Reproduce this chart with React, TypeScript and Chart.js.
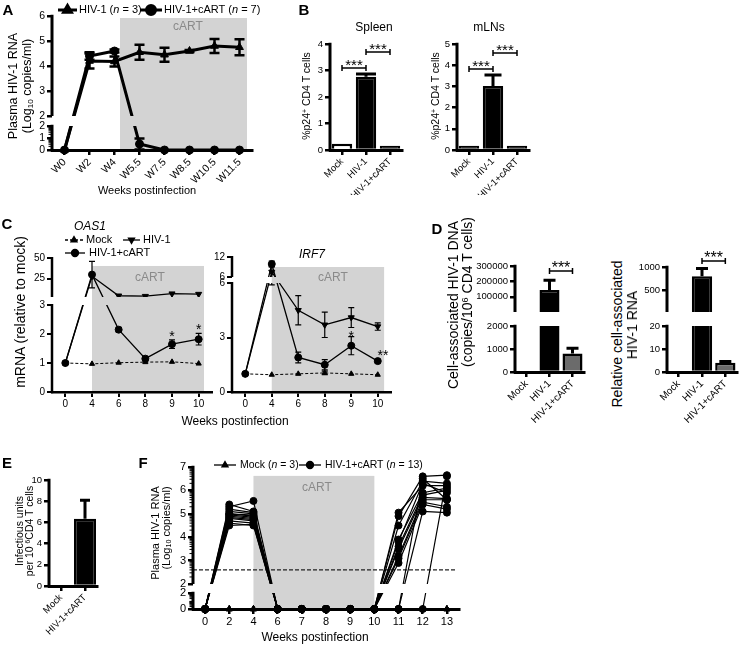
import React, { useEffect, useRef } from 'react';
import { Chart, registerables } from 'chart.js';
import { drawPoint } from 'chart.js/helpers';

Chart.register(...registerables);

const FONT = '"Liberation Sans", Arial, Helvetica, sans-serif';
const SHADE = '#d3d3d3';
const CART_TEXT = '#8a8a8a';

/* ---------------- data ---------------- */
// Panel A
const weeksA = ['W0', 'W2', 'W4', 'W5.5', 'W7.5', 'W8.5', 'W10.5', 'W11.5'];
const hivA = [0, 4.2, 4.18, 4.55, 4.45, 4.6, 4.8, 4.75];
const hivAErr = [0, 0.3, 0.2, 0.3, 0.28, 0.04, 0.28, 0.32];
const cartA = [0, 4.4, 4.6, 0.5, 0, 0, 0, 0];
const cartAErr = [0, 0.15, 0.06, 0.45, 0, 0, 0, 0];
const ticksALow = [0, 1, 2];
const ticksAHigh = [2, 3, 4, 5, 6];
const cartSpanA = [2.22, 7.3, 5.92];

// Panel B
const groupsB = ['Mock', 'HIV-1', 'HIV-1+cART'];
const spleenB = [0.24, 2.76, 0.16];
const spleenErrB = [0, 0.11, 0];
const mlnB = [0.2, 3.02, 0.2];
const mlnErrB = [0, 0.52, 0];
const ticksSpleen = [0, 1, 2, 3, 4];
const ticksMln = [0, 1, 2, 3, 4, 5];
const sigSpleen = [[0, 1, 3.09], [1, 2, 3.7]];
const sigMln = [[0, 1, 3.82], [1, 2, 4.57]];

// Panel C
const weeksC = ['0', '4', '6', '8', '9', '10'];
const oasMock = [1, 0.97, 1.01, 1.03, 1.04, 0.98];
const oasHiv = [1, 28, 4.5, 4.0, 7.0, 6.5];
const oasCart = [1, 30, 2.15, 1.15, 1.65, 1.82];
const oasCartErr = [0, 16, 0.08, 0.08, 0.15, 0.2];
const ticksOasLow = [0, 1, 2, 3];
const ticksOasHigh = [25, 50];
const cartSpanOas = [1, 5.2, 40.4];
const starsOas: [number, number, string][] = [[4, 2.03, '*'], [5, 2.28, '*']];
const irfMock = [1, 0.95, 1.0, 1.05, 1.0, 0.95];
const irfMockErr = [0, 0, 0, 0.1, 0, 0];
const irfHiv = [1, 7.5, 4.5, 3.7, 4.1, 3.6];
const irfHivErr = [0, 1.6, 0.8, 0.7, 0.55, 0.2];
const irfCart = [1, 9.9, 1.9, 1.5, 2.55, 1.7];
const irfCartErr = [0, 0.9, 0.3, 0.28, 0.5, 0.1];
const ticksIrfLow = [0, 3, 6];
const ticksIrfHigh = [6, 12];
const cartSpanIrf = [1, 5.24, 9];
const starsIrf: [number, number, string][] = [[4, 3.25, '*'], [5.2, 2.2, '**']];

// Panel D
const groupsD = ['Mock', 'HIV-1', 'HIV-1+cART'];
const dnaD = [0, 145000, 800];
const dnaErrD = [0, 62000, 230];
const rnaD = [0, 800, 4];
const rnaErrD = [0, 170, 0.6];
const ticksDnaLow = [0, 1000, 2000];
const ticksDnaHigh = [100000, 200000, 300000];
const ticksRnaLow = [0, 10, 20];
const ticksRnaHigh = [500, 1000];
const sigDna = [[1, 2, 267600]];
const sigRna = [[1, 2, 1130]];

// Panel E
const groupsE = ['Mock', 'HIV-1+cART'];
const iuE = [0, 6.35];
const iuErrE = [0, 1.75];
const ticksE = [0, 2, 4, 6, 8, 10];

// Panel F
const weeksF = ['0', '2', '4', '6', '7', '8', '9', '10', '11', '12', '13'];
const miceF = [
  [0, 5.4, 5.1, 0, 0, 0, 0, 0, 5.05, 6.2, 6.2],
  [0, 5.3, 5.55, 0, 0, 0, 0, 0, 4.9, 6.6, 6.65],
  [0, 5.2, 5.05, 0, 0, 0, 0, 0, 4.5, 6.4, 6.3],
  [0, 5.1, 5.0, 0, 0, 0, 0, 0, 3.9, 5.9, 6.1],
  [0, 5.0, 4.95, 0, 0, 0, 0, 0, 3.8, 6.3, 5.9],
  [0, 5.0, 4.9, 0, 0, 0, 0, 0, 3.6, 5.8, 6.0],
  [0, 4.95, 4.85, 0, 0, 0, 0, 0, 3.5, 5.7, 5.65],
  [0, 4.9, 4.8, 0, 0, 0, 0, 0, 3.2, 5.6, 5.6],
  [0, 4.85, 4.75, 0, 0, 0, 0, 0, 3.1, 5.5, 5.3],
  [0, 4.8, 4.7, 0, 0, 0, 0, 0, 2.9, 5.4, 5.2],
  [0, 4.7, 4.6, 0, 0, 0, 0, 0, 0, 5.1, 5.05],
  [0, 4.6, 4.5, 0, 0, 0, 0, 0, 0, 6.5, 5.6],
  [0, 4.5, 4.55, 0, 0, 0, 0, 0, 0, 0, 6.6],
];
const mockF = [
  [0, 0, 0, 0, 0, 0, 0, 0, 0, 0, 0],
  [0, 0, 0, 0, 0, 0, 0, 0, 0, 0, 0],
  [0, 0, 0, 0, 0, 0, 0, 0, 0, 0, 0],
];
const ticksFLow = [0, 2];
const ticksFHigh = [2, 3, 4, 5, 6, 7];
const cartSpanF = [2, 7, 6.62];
const detectionLimitF = 2.6;

/* ---------------- helpers ---------------- */
type Seg = [number, number, number, number]; // v0, v1, d0, d1 (d = px above axis)

function segD(s: Seg, v: number) {
  return s[2] + ((v - s[0]) / (s[1] - s[0])) * (s[3] - s[2]);
}
function toD(segs: Seg[], v: number): number {
  for (const s of segs) if (v >= s[0] && v <= s[1]) return segD(s, v);
  const first = segs[0];
  const last = segs[segs.length - 1];
  if (v < first[0]) return segD(first, v);
  if (v > last[1]) return segD(last, v);
  for (let i = 0; i < segs.length - 1; i++) {
    const a = segs[i];
    const b = segs[i + 1];
    if (v > a[1] && v < b[0]) return a[3] + ((v - a[1]) / (b[0] - a[1])) * (b[2] - a[3]);
  }
  return 0;
}
const logMinors = (from: number, to: number) => {
  const out: number[] = [];
  for (let n = from; n < to; n++) for (let k = 2; k <= 9; k++) out.push(n + Math.log10(k));
  return out;
};

interface LineDef { data: number[]; err?: number[]; style: string; rot?: number; dash?: boolean; lw: number; r: number }
interface BarDef { data: number[]; err: number[]; fill: string[]; bw: number; pct: number }
interface LegendDef { x0: number; x1: number; tx: number; y: number; style: string; rot?: number; dash?: boolean; parts: [string, boolean][] }
interface Spec {
  box: number[]; area: number[]; labels: string[]; segs: Seg[]; ticks: [number, number[]][];
  tickFont: number; xFont: number; xRot: number; axisW: number; tickW: number;
  lines?: LineDef[]; bars?: BarDef; errCap: number; errLw: number;
  shade?: number[]; hline?: number; minor?: number[];
  sig?: number[][]; sigFont?: number; sigLw?: number;
  stars?: [number, number, string][]; starFont?: number;
  legend?: LegendDef[]; legendFont?: number; legendLw?: number; legendR?: number;
}

function build(canvas: HTMLCanvasElement, s: Spec) {
  const [bx, by, bw, bh] = s.box;
  const [l, t, r, b] = s.area;
  const H = b - t;
  const T = (v: number) => toD(s.segs, v);
  const tickD: number[] = [];
  const tickL: string[] = [];
  s.ticks.forEach(([si, vals]) => vals.forEach((v) => { tickD.push(segD(s.segs[si], v)); tickL.push(String(v)); }));
  const isBar = !!s.bars;
  const datasets: any[] = isBar
    ? [{
        data: s.bars!.data.map(T), backgroundColor: s.bars!.fill, borderColor: '#000', borderWidth: s.bars!.bw,
        barPercentage: s.bars!.pct, categoryPercentage: 1, clip: false,
      }]
    : s.lines!.map((ln) => ({
        data: ln.data.map(T), borderColor: '#000', backgroundColor: '#000', borderWidth: ln.lw,
        borderDash: ln.dash ? [3, 2] : [], pointStyle: ln.style, pointRotation: ln.rot || 0, pointRadius: ln.r,
        pointHoverRadius: ln.r, pointBorderWidth: 1, pointBackgroundColor: '#000', pointBorderColor: '#000',
        tension: 0, clip: false, fill: false,
      }));
  const grid = { display: true, drawOnChartArea: false, drawTicks: true, tickLength: 5, color: '#000', lineWidth: s.tickW };

  const plugin = {
    id: 'gp',
    beforeDraw(chart: any) {
      if (!s.shade) return;
      const { ctx, chartArea: a, scales } = chart;
      const x0 = scales.x.getPixelForValue(s.shade[0]);
      const x1 = scales.x.getPixelForValue(s.shade[1]);
      const y0 = scales.y.getPixelForValue(T(s.shade[2]));
      ctx.save();
      ctx.fillStyle = SHADE;
      ctx.fillRect(x0, y0, x1 - x0, a.bottom - y0);
      ctx.restore();
    },
    beforeDatasetsDraw(chart: any) {
      const { ctx, chartArea: a, scales } = chart;
      if (s.hline !== undefined) {
        const y = scales.y.getPixelForValue(T(s.hline));
        ctx.save();
        ctx.strokeStyle = '#222';
        ctx.lineWidth = 1.3;
        ctx.setLineDash([4, 2]);
        ctx.beginPath();
        ctx.moveTo(a.left, y);
        ctx.lineTo(a.right - 2, y);
        ctx.stroke();
        ctx.restore();
      }
      ctx.save();
      if (s.segs.length > 1) {
        ctx.beginPath();
        ctx.rect(0, 0, chart.width, chart.height);
        for (let i = 0; i < s.segs.length - 1; i++) {
          const yLow = scales.y.getPixelForValue(s.segs[i][3]);
          const yHigh = scales.y.getPixelForValue(s.segs[i + 1][2]);
          ctx.rect(a.left + s.axisW / 2, yHigh, chart.width, yLow - yHigh);
        }
        ctx.clip('evenodd');
      }
    },
    afterDatasetsDraw(chart: any) {
      const { ctx, chartArea: a, scales } = chart;
      const ys = scales.y;
      const xs = scales.x;
      ctx.strokeStyle = '#000';
      ctx.lineWidth = s.errLw;
      ctx.setLineDash([]);
      const cap = s.errCap / 2;
      if (s.bars) {
        const meta = chart.getDatasetMeta(0);
        s.bars.data.forEach((v, i) => {
          const e = s.bars!.err[i];
          if (!e) return;
          const x = meta.data[i].x;
          const y0 = ys.getPixelForValue(T(v));
          const y1 = ys.getPixelForValue(T(v + e));
          ctx.beginPath();
          ctx.moveTo(x, y0);
          ctx.lineTo(x, y1);
          ctx.moveTo(x - cap, y1);
          ctx.lineTo(x + cap, y1);
          ctx.stroke();
        });
      } else {
        s.lines!.forEach((ln, di) => {
          if (!ln.err) return;
          const meta = chart.getDatasetMeta(di);
          ln.data.forEach((v, i) => {
            const e = ln.err![i];
            if (!e) return;
            const x = meta.data[i].x;
            const y0 = ys.getPixelForValue(T(v - e));
            const y1 = ys.getPixelForValue(T(v + e));
            ctx.beginPath();
            ctx.moveTo(x, y0);
            ctx.lineTo(x, y1);
            ctx.moveTo(x - cap, y0);
            ctx.lineTo(x + cap, y0);
            ctx.moveTo(x - cap, y1);
            ctx.lineTo(x + cap, y1);
            ctx.stroke();
          });
        });
      }
      ctx.restore();

      ctx.save();
      ctx.strokeStyle = '#000';
      ctx.fillStyle = '#000';
      ctx.lineWidth = s.axisW;
      s.segs.forEach((seg) => {
        const yb = ys.getPixelForValue(seg[2]) + (seg[2] === 0 ? s.axisW / 2 : 0);
        const yt = ys.getPixelForValue(seg[3]) - s.tickW / 2;
        ctx.beginPath();
        ctx.moveTo(a.left, yb);
        ctx.lineTo(a.left, yt);
        ctx.stroke();
      });
      if (s.minor) {
        ctx.lineWidth = 1;
        s.minor.forEach((v) => {
          const y = ys.getPixelForValue(T(v));
          ctx.beginPath();
          ctx.moveTo(a.left - 3.5, y);
          ctx.lineTo(a.left, y);
          ctx.stroke();
        });
      }
      if (s.sig) {
        const fs = s.sigFont || 14;
        ctx.lineWidth = s.sigLw || 1.5;
        ctx.font = `${fs}px ${FONT}`;
        ctx.textAlign = 'center';
        ctx.textBaseline = 'alphabetic';
        s.sig.forEach(([i0, i1, v]) => {
          const x0 = xs.getPixelForValue(i0);
          const x1 = xs.getPixelForValue(i1);
          const y = ys.getPixelForValue(T(v));
          ctx.beginPath();
          ctx.moveTo(x0, y);
          ctx.lineTo(x1, y);
          ctx.moveTo(x0, y - 3);
          ctx.lineTo(x0, y + 3);
          ctx.moveTo(x1, y - 3);
          ctx.lineTo(x1, y + 3);
          ctx.stroke();
          ctx.fillText('***', (x0 + x1) / 2, y + 0.15 * fs);
        });
      }
      if (s.stars) {
        const fs = s.starFont || 14;
        ctx.font = `${fs}px ${FONT}`;
        ctx.textAlign = 'center';
        ctx.textBaseline = 'alphabetic';
        s.stars.forEach(([xi, v, txt]) => {
          ctx.fillText(txt, xs.getPixelForValue(xi), ys.getPixelForValue(T(v)) + 0.55 * fs);
        });
      }
      if (s.legend) {
        const fs = s.legendFont || 11;
        ctx.textAlign = 'left';
        ctx.textBaseline = 'middle';
        s.legend.forEach((it) => {
          const x0 = it.x0 - bx;
          const x1 = it.x1 - bx;
          const y = it.y - by;
          ctx.lineWidth = s.legendLw || 1.5;
          ctx.setLineDash(it.dash ? [3, 2] : []);
          ctx.beginPath();
          ctx.moveTo(x0, y);
          ctx.lineTo(x1, y);
          ctx.stroke();
          ctx.setLineDash([]);
          drawPoint(ctx, { pointStyle: it.style, rotation: it.rot || 0, radius: s.legendR || 4, borderWidth: 1 } as any, (x0 + x1) / 2, y);
          let tx = it.tx - bx;
          it.parts.forEach(([str, ital]) => {
            ctx.font = `${ital ? 'italic ' : ''}${fs}px ${FONT}`;
            ctx.fillText(str, tx, y);
            tx += ctx.measureText(str).width;
          });
        });
      }
      ctx.restore();
    },
  };

  return new Chart(canvas, {
    type: isBar ? 'bar' : 'line',
    data: { labels: s.labels, datasets },
    options: {
      responsive: false,
      animation: false,
      devicePixelRatio: 1,
      events: [],
      layout: { padding: { left: 0, top: t - by, right: bx + bw - r, bottom: 0 } },
      plugins: { legend: { display: false }, tooltip: { enabled: false } },
      scales: {
        x: {
          type: 'category',
          offset: true,
          grid: { ...grid, offset: false },
          border: { display: true, color: '#000', width: s.axisW },
          ticks: { color: '#000', font: { family: FONT, size: s.xFont }, minRotation: s.xRot, maxRotation: s.xRot, padding: 1, autoSkip: false },
          afterFit: (sc: any) => { sc.height = by + bh - b; },
        },
        y: {
          type: 'linear',
          min: 0,
          max: H,
          grid,
          border: { display: false },
          ticks: { color: '#000', font: { family: FONT, size: s.tickFont }, padding: 2, autoSkip: false, callback: (_v: any, i: number) => tickL[i] },
          afterBuildTicks: (sc: any) => { sc.ticks = tickD.map((d) => ({ value: d })); },
          afterFit: (sc: any) => { sc.width = l - bx; },
        },
      },
    } as any,
    plugins: [plugin as any],
  });
}

/* ---------------- specs ---------------- */
const specA: Spec = {
  box: [0, 0, 270, 200], area: [52, 16, 252, 150], labels: weeksA,
  segs: [[0, 2, 0, 24], [2, 6, 34, 134]], ticks: [[0, ticksALow], [1, ticksAHigh]],
  tickFont: 10.5, xFont: 10.5, xRot: 45, axisW: 3, tickW: 2.5,
  lines: [
    { data: hivA, err: hivAErr, style: 'triangle', lw: 3, r: 4.5 },
    { data: cartA, err: cartAErr, style: 'circle', lw: 3, r: 4 },
  ],
  errCap: 10, errLw: 2.5, shade: cartSpanA, minor: logMinors(0, 2),
  legend: [
    { x0: 58, x1: 77, tx: 79, y: 10, style: 'triangle', parts: [['HIV-1 (', false], ['n', true], [' = 3)', false]] },
    { x0: 140, x1: 162, tx: 164, y: 10, style: 'circle', parts: [['HIV-1+cART (', false], ['n', true], [' = 7)', false]] },
  ],
  legendFont: 11, legendLw: 3, legendR: 4.5,
};

const specSpleen: Spec = {
  box: [290, 20, 125, 175], area: [330, 44, 402, 150], labels: groupsB,
  segs: [[0, 4, 0, 106]], ticks: [[0, ticksSpleen]],
  tickFont: 9.5, xFont: 9.5, xRot: 45, axisW: 3, tickW: 2.5,
  bars: { data: spleenB, err: spleenErrB, fill: ['#fff', '#000', '#000'], bw: 2.5, pct: 0.85 },
  errCap: 20, errLw: 3, sig: sigSpleen, sigFont: 15, sigLw: 1.5,
};

const specMln: Spec = {
  box: [420, 20, 125, 175], area: [457, 44, 529, 150], labels: groupsB,
  segs: [[0, 5, 0, 106]], ticks: [[0, ticksMln]],
  tickFont: 9.5, xFont: 9.5, xRot: 45, axisW: 3, tickW: 2.5,
  bars: { data: mlnB, err: mlnErrB, fill: ['#000', '#000', '#000'], bw: 2.5, pct: 0.85 },
  errCap: 17, errLw: 3, sig: sigMln, sigFont: 15, sigLw: 1.5,
};

const specOas: Spec = {
  box: [0, 230, 222, 195], area: [52, 258, 212, 392], labels: weeksC,
  segs: [[0, 3, 0, 87], [3, 50, 95, 134]], ticks: [[0, ticksOasLow], [1, ticksOasHigh]],
  tickFont: 10, xFont: 10, xRot: 0, axisW: 2.5, tickW: 2,
  lines: [
    { data: oasMock, style: 'triangle', dash: true, lw: 1, r: 3 },
    { data: oasHiv, style: 'triangle', rot: 180, lw: 1.3, r: 3.5 },
    { data: oasCart, err: oasCartErr, style: 'circle', lw: 1.3, r: 3.5 },
  ],
  errCap: 6, errLw: 1.2, shade: cartSpanOas, stars: starsOas, starFont: 14,
  legend: [
    { x0: 65, x1: 83, tx: 86, y: 240, style: 'triangle', dash: true, parts: [['Mock', false]] },
    { x0: 123, x1: 140, tx: 143, y: 240, style: 'triangle', rot: 180, parts: [['HIV-1', false]] },
    { x0: 65, x1: 85, tx: 89, y: 253, style: 'circle', parts: [['HIV-1+cART', false]] },
  ],
  legendFont: 11, legendLw: 1.3, legendR: 3.5,
};

const specIrf: Spec = {
  box: [205, 230, 200, 195], area: [232, 257, 391, 392], labels: weeksC,
  segs: [[0, 6, 0, 109], [6, 12, 115, 135]], ticks: [[0, ticksIrfLow], [1, ticksIrfHigh]],
  tickFont: 10, xFont: 10, xRot: 0, axisW: 2.5, tickW: 2,
  lines: [
    { data: irfMock, err: irfMockErr, style: 'triangle', dash: true, lw: 1, r: 3 },
    { data: irfHiv, err: irfHivErr, style: 'triangle', rot: 180, lw: 1.3, r: 3.5 },
    { data: irfCart, err: irfCartErr, style: 'circle', lw: 1.3, r: 3.5 },
  ],
  errCap: 6, errLw: 1.2, shade: cartSpanIrf, stars: starsIrf, starFont: 14,
};

const specDna: Spec = {
  box: [470, 250, 120, 175], area: [515, 266, 584, 372], labels: groupsD,
  segs: [[0, 2000, 0, 46], [2000, 300000, 60, 106]], ticks: [[0, ticksDnaLow], [1, ticksDnaHigh]],
  tickFont: 9.5, xFont: 10, xRot: 45, axisW: 3, tickW: 2.5,
  bars: { data: dnaD, err: dnaErrD, fill: ['#000', '#000', '#6b6b6b'], bw: 2.5, pct: 0.87 },
  errCap: 12, errLw: 3, sig: sigDna, sigFont: 16, sigLw: 1.5,
};

const specRna: Spec = {
  box: [625, 250, 115, 175], area: [667, 267, 737, 372], labels: groupsD,
  segs: [[0, 20, 0, 46], [20, 1000, 60, 105]], ticks: [[0, ticksRnaLow], [1, ticksRnaHigh]],
  tickFont: 9.5, xFont: 10, xRot: 45, axisW: 3, tickW: 2.5,
  bars: { data: rnaD, err: rnaErrD, fill: ['#000', '#000', '#6b6b6b'], bw: 2.5, pct: 0.87 },
  errCap: 12, errLw: 3, sig: sigRna, sigFont: 16, sigLw: 1.5,
};

const specE: Spec = {
  box: [0, 470, 110, 175], area: [49, 480, 97, 586], labels: groupsE,
  segs: [[0, 10, 0, 106]], ticks: [[0, ticksE]],
  tickFont: 9.5, xFont: 9.5, xRot: 45, axisW: 3, tickW: 2.5,
  bars: { data: iuE, err: iuErrE, fill: ['#000', '#000'], bw: 2.5, pct: 0.92 },
  errCap: 10, errLw: 3,
};

const specF: Spec = {
  box: [160, 450, 310, 195], area: [193, 467, 459, 609], labels: weeksF,
  segs: [[0, 2, 0, 16], [2, 7, 25, 142]], ticks: [[0, ticksFLow], [1, ticksFHigh]],
  tickFont: 11, xFont: 11, xRot: 0, axisW: 3, tickW: 2.5,
  lines: [
    ...miceF.map((m) => ({ data: m, style: 'circle', lw: 1.2, r: 3.5 })),
    ...mockF.map((m) => ({ data: m, style: 'triangle', lw: 1.2, r: 3.5 })),
  ],
  errCap: 6, errLw: 1, shade: cartSpanF, hline: detectionLimitF,
  minor: [...logMinors(0, 2), ...logMinors(2, 7)],
  legend: [
    { x0: 214, x1: 236, tx: 240, y: 465, style: 'triangle', parts: [['Mock (', false], ['n', true], [' = 3)', false]] },
    { x0: 299, x1: 321, tx: 325, y: 465, style: 'circle', parts: [['HIV-1+cART (', false], ['n', true], [' = 13)', false]] },
  ],
  legendFont: 10.5, legendLw: 1.3, legendR: 3.5,
};

const SPECS = [specA, specSpleen, specMln, specOas, specIrf, specDna, specRna, specE, specF];

/* ---------------- components ---------------- */
function Panel({ spec }: { spec: Spec }) {
  const ref = useRef<HTMLCanvasElement>(null);
  useEffect(() => {
    const chart = build(ref.current!, spec);
    return () => chart.destroy();
  }, [spec]);
  const [x, y, w, h] = spec.box;
  return <canvas ref={ref} width={w} height={h} style={{ position: 'absolute', left: x, top: y, width: w, height: h }} />;
}

function Txt(p: { x: number; y: number; fs: number; rot?: boolean; b?: boolean; i?: boolean; c?: string; children: any }) {
  return (
    <div
      style={{
        position: 'absolute', left: p.x, top: p.y,
        transform: `translate(-50%, -50%)${p.rot ? ' rotate(-90deg)' : ''}`,
        fontFamily: FONT, fontSize: p.fs, fontWeight: p.b ? 'bold' : 'normal', fontStyle: p.i ? 'italic' : 'normal',
        color: p.c || '#000', whiteSpace: 'nowrap', lineHeight: 1,
      }}
    >
      {p.children}
    </div>
  );
}

const sub = { fontSize: '0.65em', verticalAlign: '-0.25em', lineHeight: 0 } as const;
const sup = { fontSize: '0.65em', verticalAlign: '0.45em', lineHeight: 0 } as const;

export default function App() {
  return (
    <div style={{ position: 'absolute', left: 0, top: 0, width: 740, height: 645, background: '#fff', overflow: 'hidden' }}>
      {SPECS.map((s, i) => <Panel key={i} spec={s} />)}

      <Txt x={8} y={9} fs={15} b>A</Txt>
      <Txt x={304} y={9} fs={15} b>B</Txt>
      <Txt x={7} y={223} fs={15} b>C</Txt>
      <Txt x={437} y={228} fs={15} b>D</Txt>
      <Txt x={7} y={462} fs={15} b>E</Txt>
      <Txt x={143} y={462} fs={15} b>F</Txt>

      {/* A */}
      <Txt x={12.5} y={86} fs={12.5} rot>Plasma HIV-1 RNA</Txt>
      <Txt x={27} y={86} fs={12.5} rot>(Log<span style={sub}>10</span> copies/ml)</Txt>
      <Txt x={147} y={190} fs={11}>Weeks postinfection</Txt>
      <Txt x={188} y={26} fs={12} c={CART_TEXT}>cART</Txt>

      {/* B */}
      <Txt x={374} y={27} fs={12}>Spleen</Txt>
      <Txt x={489} y={27} fs={12}>mLNs</Txt>
      <Txt x={306} y={96} fs={10.5} rot>%p24<span style={sup}>+</span> CD4 T cells</Txt>
      <Txt x={435} y={96} fs={10.5} rot>%p24<span style={sup}>+</span> CD4 T cells</Txt>

      {/* C */}
      <Txt x={90} y={226} fs={12} i>OAS1</Txt>
      <Txt x={312} y={254} fs={12} i>IRF7</Txt>
      <Txt x={150} y={277} fs={12} c={CART_TEXT}>cART</Txt>
      <Txt x={333} y={277} fs={12} c={CART_TEXT}>cART</Txt>
      <Txt x={20} y={312} fs={14} rot>mRNA (relative to mock)</Txt>
      <Txt x={235} y={421} fs={12}>Weeks postinfection</Txt>

      {/* D */}
      <Txt x={453} y={305} fs={14} rot>Cell-associated HIV-1 DNA</Txt>
      <Txt x={467} y={292} fs={14} rot>(copies/10<span style={sup}>6</span> CD4 T cells)</Txt>
      <Txt x={617} y={334} fs={14} rot>Relative cell-associated</Txt>
      <Txt x={632} y={325} fs={14} rot>HIV-1 RNA</Txt>

      {/* E */}
      <Txt x={19} y={531} fs={10.5} rot>Infectious units</Txt>
      <Txt x={29} y={531} fs={10.5} rot>per 10 <span style={sup}>6</span>CD4 T cells</Txt>

      {/* F */}
      <Txt x={155} y={533} fs={11} rot>Plasma HIV-1 RNA</Txt>
      <Txt x={166} y={528} fs={11} rot>(Log<span style={sub}>10</span> copies/ml)</Txt>
      <Txt x={317} y={487} fs={12} c={CART_TEXT}>cART</Txt>
      <Txt x={315} y={637} fs={12}>Weeks postinfection</Txt>
    </div>
  );
}
